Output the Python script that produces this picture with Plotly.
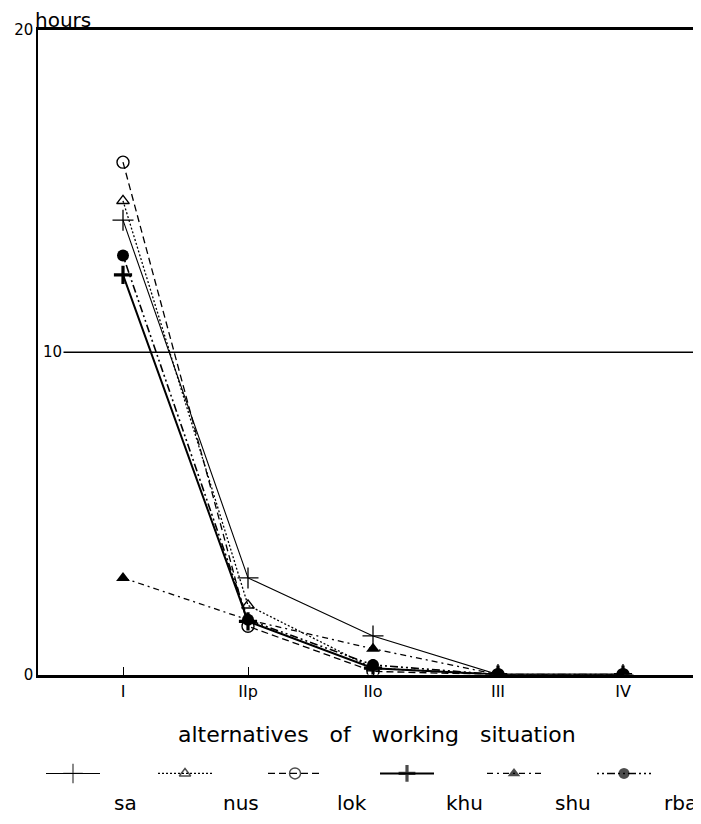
import plotly.graph_objects as go

# alternatives of working situation (x categories)
situations = ["I", "IIp", "IIo", "III", "IV"]
xpos = [0, 1, 2, 3, 4]

# hours per alternative
sa = [14.1, 3.0, 1.2, 0, 0]
nus = [14.7, 2.15, 0.2, 0, 0]
lok = [15.9, 1.5, 0.1, 0, 0]
khu = [12.4, 1.65, 0.2, 0, 0]
shu = [3.0, 1.7, 0.8, 0, 0]
rba = [13.0, 1.7, 0.3, 0, 0]

names = ["sa", "nus", "lok", "khu", "shu", "rba"]
series = [sa, nus, lok, khu, shu, rba]

styles = {
    "sa": dict(dash="solid", width=1.1, symbol="cross-thin", size=15, mlw=1.3, fill="black"),
    "nus": dict(dash="2px,2px", width=1.3, symbol="triangle-up-open", size=11, mlw=1.4, fill="black"),
    "lok": dict(dash="7px,4px", width=1.3, symbol="circle-open", size=12, mlw=1.4, fill="black"),
    "khu": dict(dash="solid", width=2.0, symbol="cross-thin", size=13, mlw=3.2, fill="black"),
    "shu": dict(dash="6px,4px,2px,4px", width=1.3, symbol="triangle-up", size=12, mlw=0, fill="black"),
    "rba": dict(dash="2px,3px,2px,3px,8px,3px", width=1.6, symbol="circle", size=12, mlw=0, fill="black"),
}

# legend key centres and label centres (px across the page)
key_x = [73, 185, 295, 407, 514, 624]
label_x = [125, 241, 352, 464, 573, 680]

FONT = "DejaVu Sans, Arial, sans-serif"

# the page body keeps its default 8px margin, so the figure is drawn 8px in
PAGE = 8
W, H = 701 - PAGE, 824 - PAGE
L, TOP = 38 - PAGE, 30 - PAGE
R = W - (694 - PAGE)
plot_w = W - L - R
paper_h = H - TOP


def px_x(p):
    return (p - PAGE - L) / plot_w


def px_y(p):
    return (H - (p - PAGE)) / paper_h


fig = go.Figure()

for name, vals in zip(names, series):
    s = styles[name]
    fig.add_trace(go.Scatter(
        x=xpos, y=vals, mode="lines+markers", name=name,
        line=dict(color="black", width=s["width"], dash=s["dash"]),
        marker=dict(symbol=s["symbol"], size=s["size"], color=s["fill"],
                    line=dict(color="black", width=s["mlw"])),
        xaxis="x", yaxis="y", showlegend=False,
    ))

# hand-made legend row: short line sample with the marker in the middle
for name, kx in zip(names, key_x):
    s = styles[name]
    fig.add_trace(go.Scatter(
        x=[px_x(kx - 27), px_x(kx), px_x(kx + 27)], y=[0, 0, 0],
        mode="lines+markers",
        line=dict(color="black", width=s["width"], dash=s["dash"]),
        marker=dict(symbol=s["symbol"], size=[0, s["size"] - 1, 0], color=s["fill"],
                    line=dict(color="black", width=s["mlw"])),
        xaxis="x2", yaxis="y2", showlegend=False, hoverinfo="skip",
    ))

annotations = [
    dict(text="alternatives&nbsp;&nbsp; of&nbsp;&nbsp; working&nbsp;&nbsp; situation",
         x=px_x(377), y=px_y(743), xref="paper", yref="paper",
         xanchor="center", yanchor="middle",
         showarrow=False, font=dict(size=22, family=FONT, color="black")),
    dict(text="hours", x=px_x(33), y=1.0, xref="paper", yref="paper", xanchor="left",
         yanchor="bottom", yshift=-4, showarrow=False,
         font=dict(size=20, family=FONT, color="black")),
    dict(text="10", x=0, y=10, xref="paper", yref="y", xanchor="left",
         yanchor="middle", xshift=3, showarrow=False, bgcolor="white",
         font=dict(size=15, family=FONT, color="black")),
]
for name, lx in zip(names, label_x):
    annotations.append(dict(text=name, x=px_x(lx), y=px_y(812), xref="paper",
                            yref="paper", xanchor="center", yanchor="middle",
                            showarrow=False,
                            font=dict(size=20, family=FONT, color="black")))

fig.update_layout(
    width=W, height=H,
    margin=dict(l=L, r=R, t=TOP, b=0),
    paper_bgcolor="white", plot_bgcolor="white",
    font=dict(family=FONT, color="black"),
    xaxis=dict(
        range=[-0.68, 4.568], tickvals=xpos, ticktext=situations,
        ticks="inside", ticklen=8, tickwidth=1, tickcolor="black",
        showline=True, linecolor="black", linewidth=2.5, mirror=True,
        showgrid=False, zeroline=False, tickfont=dict(size=16),
        anchor="y",
    ),
    yaxis=dict(
        range=[0, 20], domain=[px_y(682), 1], tickvals=[0, 20],
        ticktext=["0", "20"], ticks="", showline=True, linecolor="black",
        linewidth=1.5, mirror=True, showgrid=False, zeroline=False,
        tickfont=dict(size=15), anchor="x",
    ),
    xaxis2=dict(range=[0, 1], domain=[0, 1], visible=False, anchor="y2"),
    yaxis2=dict(range=[-1, 1], domain=[px_y(802), px_y(762)], visible=False,
                anchor="x2"),
    shapes=[dict(type="line", xref="paper", yref="y", x0=0.03, x1=1, y0=10, y1=10,
                 line=dict(color="black", width=1.6))],
    annotations=annotations,
)

fig.write_html("out.html")
